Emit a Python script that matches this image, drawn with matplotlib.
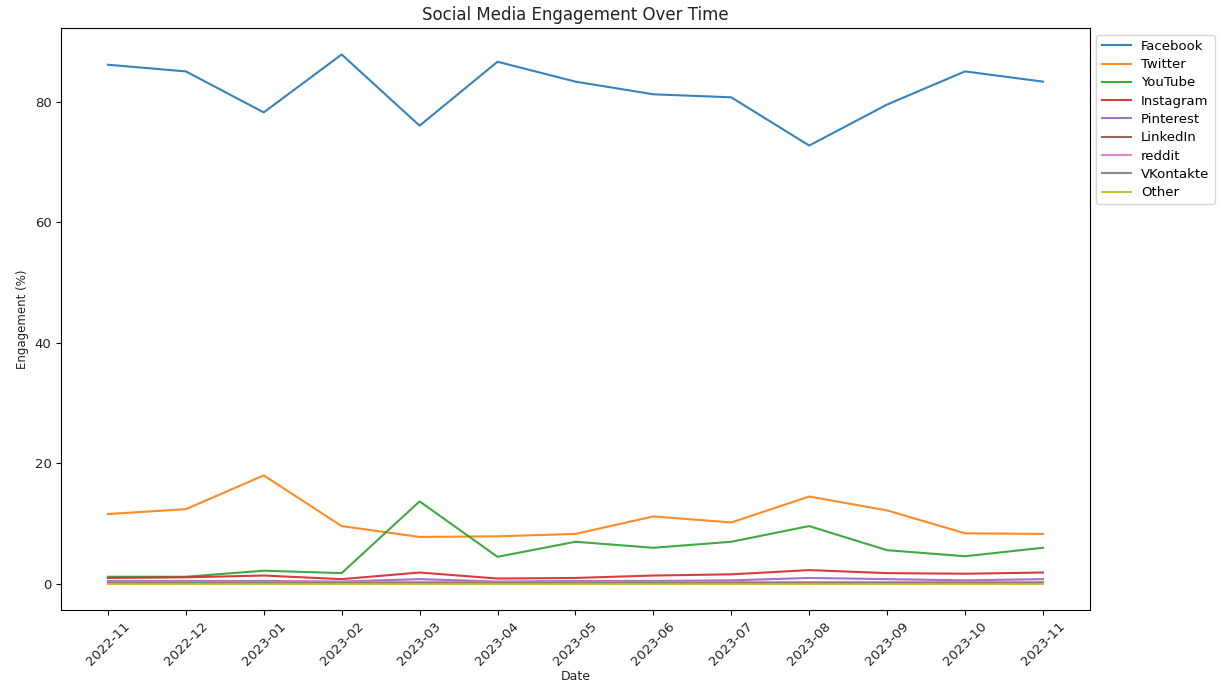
import matplotlib
matplotlib.use("Agg")
import matplotlib.pyplot as plt

# Monthly engagement share per platform (%)
dates = ["2022-11", "2022-12", "2023-01", "2023-02", "2023-03", "2023-04", "2023-05",
         "2023-06", "2023-07", "2023-08", "2023-09", "2023-10", "2023-11"]

facebook = [86.1, 85.0, 78.2, 87.8, 76.0, 86.6, 83.3, 81.2, 80.7, 72.7, 79.5, 85.0, 83.3]
twitter = [11.6, 12.4, 18.0, 9.6, 7.8, 7.9, 8.3, 11.2, 10.2, 14.5, 12.2, 8.4, 8.3]
youtube = [1.2, 1.2, 2.2, 1.8, 13.7, 4.5, 7.0, 6.0, 7.0, 9.6, 5.6, 4.6, 6.0]
instagram = [1.0, 1.1, 1.4, 0.8, 1.9, 0.9, 1.0, 1.4, 1.6, 2.3, 1.8, 1.7, 1.9]
pinterest = [0.5, 0.5, 0.5, 0.4, 0.8, 0.4, 0.5, 0.5, 0.6, 1.0, 0.8, 0.6, 0.8]
linkedin = [0.2, 0.2, 0.2, 0.2, 0.2, 0.2, 0.2, 0.2, 0.2, 0.2, 0.2, 0.2, 0.2]
reddit = [0.3, 0.3, 0.3, 0.3, 0.3, 0.3, 0.3, 0.3, 0.3, 0.3, 0.3, 0.3, 0.3]
vkontakte = [0.1, 0.1, 0.1, 0.1, 0.1, 0.1, 0.1, 0.1, 0.1, 0.1, 0.1, 0.1, 0.1]
other = [0.05, 0.05, 0.05, 0.05, 0.05, 0.05, 0.05, 0.05, 0.05, 0.05, 0.05, 0.05, 0.05]

names = ["Facebook", "Twitter", "YouTube", "Instagram", "Pinterest",
         "LinkedIn", "reddit", "VKontakte", "Other"]
series = [facebook, twitter, youtube, instagram, pinterest,
          linkedin, reddit, vkontakte, other]

fig, ax = plt.subplots(figsize=(12.23, 6.84), dpi=100)

for name, vals in zip(names, series):
    ax.plot(dates, vals, label=name, alpha=0.9)

ax.set_title("Social Media Engagement Over Time", fontsize=12, color="#222222")
ax.set_xlabel("Date", fontsize=9, color="#222222", labelpad=1)
ax.set_ylabel("Engagement (%)", fontsize=8.5, color="#222222")
ax.tick_params(axis="x", rotation=45, labelsize=9.5, labelcolor="#222222")
ax.tick_params(axis="y", labelsize=9.5, labelcolor="#222222")
ax.legend(loc="upper left", bbox_to_anchor=(1, 1), fontsize=9.5, labelspacing=0.4,
          handlelength=2.2)

fig.subplots_adjust(left=0.05, right=0.891, top=0.959, bottom=0.108)
fig.savefig("out.png")
